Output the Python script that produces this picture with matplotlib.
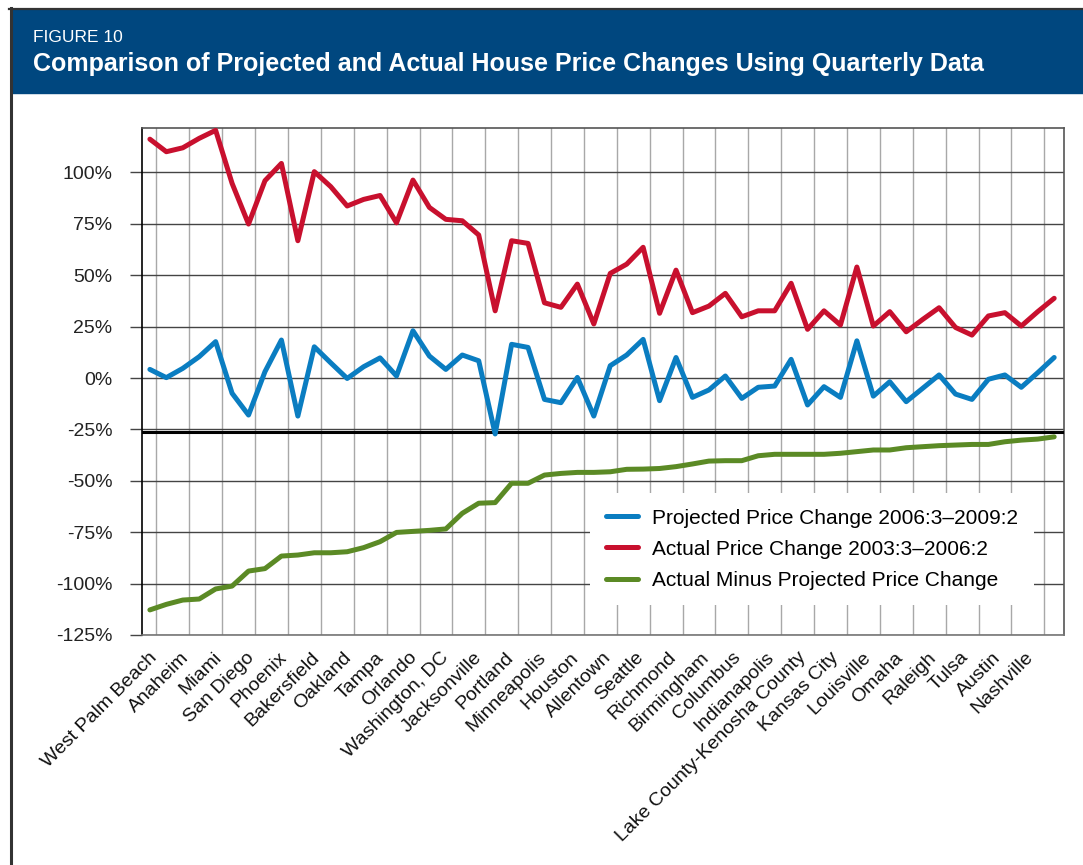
import numpy as np
import matplotlib.pyplot as plt
from matplotlib.patches import Rectangle
from matplotlib.lines import Line2D

# Metro areas, labelled every other point along the category axis
cities = ["West Palm Beach", "Anaheim", "Miami", "San Diego", "Phoenix",
          "Bakersfield", "Oakland", "Tampa", "Orlando", "Washington, DC",
          "Jacksonville", "Portland", "Minneapolis", "Houston", "Allentown",
          "Seattle", "Richmond", "Birmingham", "Columbus", "Indianapolis",
          "Lake County-Kenosha County", "Kansas City", "Louisville", "Omaha",
          "Raleigh", "Tulsa", "Austin", "Nashville"]

# Percent changes, 56 metro areas
projected = [4.2, 0.2, 4.7, 10.4, 17.7, -7.4, -18.0, 3.1, 18.5, -18.5,
             15.2, 7.4, -0.2, 5.5, 9.8, 1.0, 23.0, 10.7, 4.2, 11.2,
             8.4, -27.2, 16.4, 14.9, -10.4, -12.0, 0.3, -18.5, 6.0, 11.2,
             18.8, -11.0, 10.0, -9.4, -5.8, 1.0, -9.9, -4.5, -3.9, 9.1,
             -13.1, -4.2, -9.4, 18.1, -8.8, -1.8, -11.5, -5.0, 1.5, -7.8,
             -10.4, -0.6, 1.5, -4.5, 2.6, 10.0]
actual = [116.2, 110.1, 112.0, 116.6, 120.5, 94.7, 74.9, 96.0, 104.4, 66.8,
          100.4, 93.1, 83.7, 86.9, 88.8, 75.5, 96.3, 83.0, 77.2, 76.5,
          69.6, 32.7, 66.8, 65.5, 36.6, 34.4, 45.7, 26.3, 50.9, 55.4,
          63.6, 31.5, 52.5, 31.8, 35.0, 41.2, 29.8, 32.7, 32.7, 46.1,
          23.7, 32.7, 25.8, 54.0, 25.3, 32.3, 22.5, 28.5, 34.2, 24.6,
          20.9, 30.2, 31.8, 25.3, 32.3, 38.8]
difference = [-112.8, -110.1, -108.0, -107.5, -102.6, -101.2, -93.9, -92.7, -86.6, -86.1,
              -85.0, -85.0, -84.5, -82.5, -79.6, -75.1, -74.6, -74.1, -73.4, -65.8,
              -60.9, -60.6, -51.2, -51.2, -47.2, -46.4, -45.9, -45.9, -45.6, -44.4,
              -44.3, -44.0, -43.1, -41.8, -40.4, -40.2, -40.2, -37.8, -37.1, -37.1,
              -37.1, -37.1, -36.6, -35.8, -35.0, -35.0, -33.9, -33.4, -32.9, -32.6,
              -32.3, -32.3, -31.0, -30.2, -29.7, -28.6]
yticks = [100, 75, 50, 25, 0, -25, -50, -75, -100, -125]

BLUE = "#0A7DC1"
RED = "#C8102E"
GREEN = "#5B8A25"
NAVY = "#00477F"
label_font = ["Liberation Sans", "DejaVu Sans"]
head_font = ["Liberation Sans Narrow", "Liberation Sans", "DejaVu Sans"]

fig = plt.figure(figsize=(10.83, 8.65), dpi=100)

# header band and page frame
fig.patches.append(Rectangle((12 / 1083, 1 - 93 / 865), 1, 83 / 865,
                             transform=fig.transFigure, color=NAVY, zorder=0))
fig.lines.append(Line2D([9 / 1083, 1], [1 - 8.5 / 865] * 2,
                        transform=fig.transFigure, color="#333333", lw=1.6))
fig.lines.append(Line2D([10.5 / 1083] * 2, [0, 1 - 8 / 865],
                        transform=fig.transFigure, color="#333333", lw=2.2))
fig.text(33 / 1083, 1 - 42.5 / 865, "FIGURE 10", color="white", fontsize=12.5,
         family=head_font, va="baseline")
fig.text(33 / 1083, 1 - 71.5 / 865,
         "Comparison of Projected and Actual House Price Changes Using Quarterly Data",
         color="white", fontsize=18, fontweight="bold", family=head_font, va="baseline")

ax = fig.add_axes([0.1308, 0.2659, 0.8517, 0.5858])
x = np.arange(len(projected))

lw = 3.6
ax.plot(x, projected, color=BLUE, lw=lw, solid_joinstyle="round", solid_capstyle="round",
        label="Projected Price Change 2006:3\u20132009:2", zorder=4)
ax.plot(x, actual, color=RED, lw=lw, solid_joinstyle="round", solid_capstyle="round",
        label="Actual Price Change 2003:3\u20132006:2", zorder=4)
ax.plot(x, difference, color=GREEN, lw=lw, solid_joinstyle="round", solid_capstyle="round",
        label="Actual Minus Projected Price Change", zorder=4)

# category axis line
ax.axhline(-26.4, color="black", lw=2.2, zorder=3)

ax.set_xlim(-0.5, 55.6)
ax.set_ylim(-125, 121.5)

ax.set_yticks(yticks)
ax.set_yticklabels([f"{v}%" for v in yticks], family=label_font, fontsize=14, color="#222222")
ax.tick_params(axis="y", length=9, width=1.0, color="#444444", pad=12)
ax.yaxis.grid(True, color="#444444", lw=1.0, zorder=1)

# vertical gridlines every two points; labels sit on their own slightly tighter spacing
ax.set_xticks(np.arange(len(cities)) * 2 + 0.4, minor=True)
ax.set_xticks(np.linspace(-0.1, 53.2, len(cities)))
ax.set_xticklabels(cities, rotation=45, ha="right", va="top", rotation_mode="anchor",
                   family=label_font, fontsize=14, color="#111111")
ax.tick_params(axis="x", which="both", length=0, pad=10)
ax.xaxis.grid(True, which="minor", color="#a8a8a8", lw=1.0, zorder=1)
ax.xaxis.grid(False, which="major")
ax.set_axisbelow(True)

for side, col in [("left", "black"), ("top", "#555555"), ("right", "#555555"),
                  ("bottom", "#777777")]:
    ax.spines[side].set_color(col)
    ax.spines[side].set_linewidth(1.2)

leg = ax.legend(loc="upper left", bbox_to_anchor=(0.486, 0.2802), frameon=True,
                fancybox=False, framealpha=1, facecolor="white", edgecolor="none",
                borderaxespad=0, borderpad=0.75, handlelength=1.55, handletextpad=0.7,
                labelspacing=0.58, prop={"family": label_font, "size": 15})
leg.set_zorder(5)

fig.savefig("out.png", dpi=100)
